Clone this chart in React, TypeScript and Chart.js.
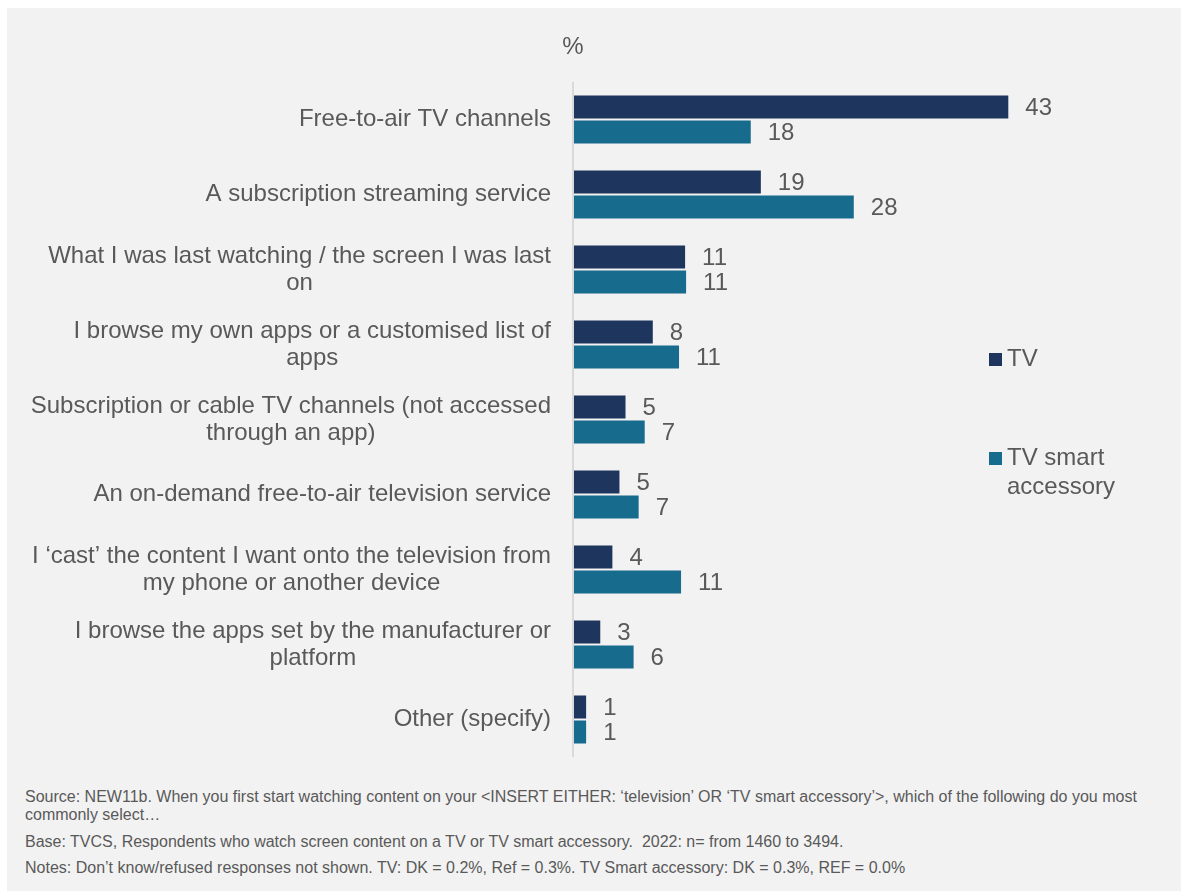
import React, { useEffect, useRef } from "react";
import { Chart, registerables } from "chart.js";

Chart.register(...registerables);

const categories: string[][] = [
  ["Free-to-air TV channels"],
  ["A subscription streaming service"],
  ["What I was last watching / the screen I was last", "on"],
  ["I browse my own apps or a customised list of", "apps"],
  ["Subscription or cable TV channels (not accessed", "through an app)"],
  ["An on-demand free-to-air television service"],
  ["I \u2018cast\u2019 the content I want onto the television from", "my phone or another device"],
  ["I browse the apps set by the manufacturer or", "platform"],
  ["Other (specify)"],
];

const tvValues = [43.1, 18.6, 11.1, 7.9, 5.2, 4.6, 3.9, 2.7, 1.3];
const accessoryValues = [17.6, 27.8, 11.2, 10.5, 7.1, 6.5, 10.7, 6.0, 1.3];

const seriesNames: string[][] = [["TV"], ["TV smart", "accessory"]];
const seriesColors = ["#1e355e", "#176b8d"];

const unitLabel = "%";
const footnotes: string[][] = [
  [
    "Source: NEW11b. When you first start watching content on your <INSERT EITHER: \u2018television\u2019 OR \u2018TV smart accessory\u2019>, which of the following do you most",
    "commonly select\u2026",
  ],
  ["Base: TVCS, Respondents who watch screen content on a TV or TV smart accessory.\u00a0\u00a02022: n= from 1460 to 3494."],
  ["Notes: Don\u2019t know/refused responses not shown. TV: DK = 0.2%, Ref = 0.3%. TV Smart accessory: DK = 0.3%, REF = 0.0%"],
];

const FONT = "'Liberation Sans', Arial, sans-serif";
const TEXT = "#595959";

const decorPlugin = {
  id: "decor",
  afterDatasetsDraw(chart: any) {
    const ctx = chart.ctx;
    const area = chart.chartArea;
    const yScale = chart.scales.y;
    ctx.save();
    // axis line
    ctx.strokeStyle = "#d9d9d9";
    ctx.lineWidth = 2;
    ctx.beginPath();
    ctx.moveTo(area.left - 1, area.top);
    ctx.lineTo(area.left - 1, area.bottom);
    ctx.stroke();

    ctx.fillStyle = TEXT;
    ctx.font = `24px ${FONT}`;

    // unit label
    ctx.textAlign = "center";
    ctx.textBaseline = "middle";
    ctx.fillText(unitLabel, area.left - 1, 39);

    // category labels
    const right = area.left - 23;
    const lh = 27;
    categories.forEach((lines, i) => {
      const cy = yScale.getPixelForValue(i);
      const widest = Math.max(...lines.map((l) => ctx.measureText(l).width));
      const cx = right - widest / 2;
      const y0 = cy - ((lines.length - 1) * lh) / 2;
      ctx.textAlign = "center";
      lines.forEach((l, k) => ctx.fillText(l, cx, y0 + k * lh));
    });

    // value labels
    ctx.textAlign = "left";
    chart.data.datasets.forEach((ds: any, di: number) => {
      const meta = chart.getDatasetMeta(di);
      meta.data.forEach((bar: any, i: number) => {
        const v = ds.data[i];
        ctx.fillText(String(Math.round(v)), bar.x + 16, bar.y + 1);
      });
    });

    // legend
    const legendX = 982;
    const legendTops = [345, 444];
    seriesNames.forEach((lines, si) => {
      const top = legendTops[si];
      ctx.fillStyle = seriesColors[si];
      ctx.fillRect(legendX, top, 13, 13);
      ctx.fillStyle = TEXT;
      ctx.textAlign = "left";
      lines.forEach((l, k) => ctx.fillText(l, legendX + 18, top + 6 + k * 29));
    });
    ctx.restore();
  },
};

export default function App() {
  const ref = useRef<HTMLCanvasElement | null>(null);

  useEffect(() => {
    if (!ref.current) return;
    const chart = new Chart(ref.current, {
      type: "bar",
      data: {
        labels: categories.map((c) => c.join(" ")),
        datasets: [
          {
            label: seriesNames[0].join(" "),
            data: tvValues,
            backgroundColor: seriesColors[0],
            borderColor: "rgba(255,255,255,0.25)",
            borderWidth: 1,
            barPercentage: 1,
            categoryPercentage: 50 / 75,
          },
          {
            label: seriesNames[1].join(" "),
            data: accessoryValues,
            backgroundColor: seriesColors[1],
            borderColor: "rgba(255,255,255,0.25)",
            borderWidth: 1,
            barPercentage: 1,
            categoryPercentage: 50 / 75,
          },
        ],
      },
      options: {
        indexAxis: "y",
        animation: false,
        responsive: false,
        maintainAspectRatio: false,
        layout: { padding: { left: 567, right: 102, top: 74, bottom: 21 } },
        scales: {
          x: { display: false, min: 0, max: 50 },
          y: { display: false },
        },
        plugins: {
          legend: { display: false },
          tooltip: { enabled: false },
        },
      },
      plugins: [decorPlugin],
    });
    return () => chart.destroy();
  }, []);

  return (
    <div
      style={{
        position: "fixed",
        left: 7,
        top: 8,
        width: 1174,
        height: 883,
        background: "#f2f2f2",
        fontFamily: FONT,
        color: TEXT,
      }}
    >
      <canvas
        ref={ref}
        width={1174}
        height={770}
        style={{ position: "absolute", left: 0, top: 0, width: 1174, height: 770 }}
      />
      <div
        style={{
          position: "absolute",
          left: 18,
          top: 780,
          fontSize: 16,
          lineHeight: "18px",
          whiteSpace: "nowrap",
        }}
      >
        {footnotes.map((para, i) => (
          <div key={i} style={{ marginBottom: i === 0 ? 9 : 8 }}>
            {para.map((l, k) => (
              <div key={k}>{l}</div>
            ))}
          </div>
        ))}
      </div>
    </div>
  );
}
